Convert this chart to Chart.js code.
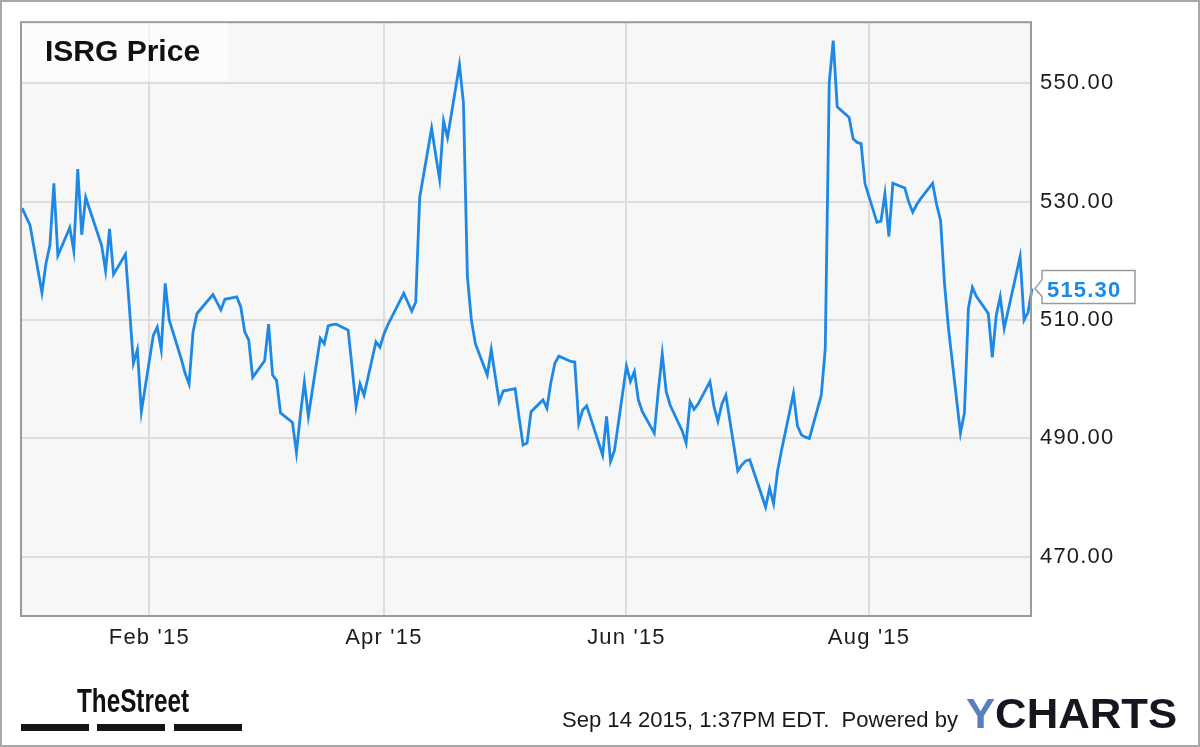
<!DOCTYPE html>
<html>
<head>
<meta charset="utf-8">
<script src="https://cdn.jsdelivr.net/npm/chart.js@4.4.1/dist/chart.umd.min.js"></script>
<style>
	html, body { margin: 0; padding: 0; background: #fff; }
	canvas { display: block; }
</style>
</head>
<body>
<canvas id="isrgChart" width="1200" height="747"></canvas>
<script>
'use strict'

// trading days shown on the chart (Dec 31 2014 .. Sep 11 2015)
const dates = [
	'2014-12-31',
	'2015-01-02', '2015-01-05', '2015-01-06', '2015-01-07', '2015-01-08', '2015-01-09', '2015-01-12', '2015-01-13', '2015-01-14', '2015-01-15',
	'2015-01-16', '2015-01-20', '2015-01-21', '2015-01-22', '2015-01-23', '2015-01-26', '2015-01-27', '2015-01-28', '2015-01-29', '2015-01-30',
	'2015-02-02', '2015-02-03', '2015-02-04', '2015-02-05', '2015-02-06', '2015-02-09', '2015-02-10', '2015-02-11', '2015-02-12', '2015-02-13',
	'2015-02-17', '2015-02-18', '2015-02-19', '2015-02-20', '2015-02-23', '2015-02-24', '2015-02-25', '2015-02-26', '2015-02-27',
	'2015-03-02', '2015-03-03', '2015-03-04', '2015-03-05', '2015-03-06', '2015-03-09', '2015-03-10', '2015-03-11', '2015-03-12', '2015-03-13',
	'2015-03-16', '2015-03-17', '2015-03-18', '2015-03-19', '2015-03-20', '2015-03-23', '2015-03-24', '2015-03-25', '2015-03-26', '2015-03-27',
	'2015-03-30', '2015-03-31',
	'2015-04-01', '2015-04-02', '2015-04-06', '2015-04-07', '2015-04-08', '2015-04-09', '2015-04-10', '2015-04-13', '2015-04-14', '2015-04-15',
	'2015-04-16', '2015-04-17', '2015-04-20', '2015-04-21', '2015-04-22', '2015-04-23', '2015-04-24', '2015-04-27', '2015-04-28', '2015-04-29',
	'2015-04-30',
	'2015-05-01', '2015-05-04', '2015-05-05', '2015-05-06', '2015-05-07', '2015-05-08', '2015-05-11', '2015-05-12', '2015-05-13', '2015-05-14',
	'2015-05-15', '2015-05-18', '2015-05-19', '2015-05-20', '2015-05-21', '2015-05-22', '2015-05-26', '2015-05-27', '2015-05-28', '2015-05-29',
	'2015-06-01', '2015-06-02', '2015-06-03', '2015-06-04', '2015-06-05', '2015-06-08', '2015-06-09', '2015-06-10', '2015-06-11', '2015-06-12',
	'2015-06-15', '2015-06-16', '2015-06-17', '2015-06-18', '2015-06-19', '2015-06-22', '2015-06-23', '2015-06-24', '2015-06-25', '2015-06-26',
	'2015-06-29', '2015-06-30',
	'2015-07-01', '2015-07-02', '2015-07-06', '2015-07-07', '2015-07-08', '2015-07-09', '2015-07-10', '2015-07-13', '2015-07-14', '2015-07-15',
	'2015-07-16', '2015-07-17', '2015-07-20', '2015-07-21', '2015-07-22', '2015-07-23', '2015-07-24', '2015-07-27', '2015-07-28', '2015-07-29',
	'2015-07-30', '2015-07-31',
	'2015-08-03', '2015-08-04', '2015-08-05', '2015-08-06', '2015-08-07', '2015-08-10', '2015-08-11', '2015-08-12', '2015-08-13', '2015-08-14',
	'2015-08-17', '2015-08-18', '2015-08-19', '2015-08-20', '2015-08-21', '2015-08-24', '2015-08-25', '2015-08-26', '2015-08-27', '2015-08-28',
	'2015-08-31',
	'2015-09-01', '2015-09-02', '2015-09-03', '2015-09-04', '2015-09-08', '2015-09-09', '2015-09-10', '2015-09-11'
];

const prices = [
	528.9,
	526.0, 514.6, 519.5, 522.6, 533.1, 520.9, 525.6, 521.7, 535.5, 524.4,
	530.7, 522.6, 518.3, 525.4, 517.7, 521.1, 512.0, 502.7, 505.0, 494.5,
	507.4, 508.8, 505.0, 516.2, 510.0, 503.5, 501.0, 499.2, 508.0, 511.1,
	514.3, 513.0, 511.7, 513.5, 513.9, 512.2, 508.0, 506.6, 500.3,
	503.1, 509.3, 500.7, 499.8, 494.3, 492.7, 487.6, 494.0, 499.5, 493.7,
	506.9, 506.0, 509.0, 509.2, 509.3, 508.3, 502.0, 495.4, 499.2, 497.3,
	506.3, 505.4,
	507.6, 509.2, 514.5, 513.0, 511.5, 513.0, 530.7, 542.4, 538.0, 533.8,
	543.6, 540.8, 553.1, 546.7, 517.3, 510.0, 506.0, 500.7, 505.0, 500.5,
	496.2,
	498.0, 498.4, 493.5, 488.9, 489.2, 494.5, 496.5, 495.1, 499.5, 502.7,
	503.9, 503.0, 502.9, 492.5, 494.8, 495.5, 487.2, 493.7, 486.1, 488.0,
	502.2, 499.6, 501.3, 496.5, 494.5, 490.9, 498.0, 504.3, 497.9, 495.6,
	491.3, 489.2, 496.2, 494.9, 495.8, 499.6, 495.4, 492.9, 495.8, 497.3,
	484.5, 485.5,
	486.2, 486.4, 478.4, 481.6, 479.0, 484.5, 488.0, 497.6, 492.1, 490.6,
	490.2, 490.0, 497.3, 505.2, 550.1, 557.2, 546.0, 544.2, 540.6, 540.0,
	539.8, 533.0,
	526.5, 526.7, 531.3, 524.1, 533.1, 532.3, 529.9, 528.2, 529.5, 530.5,
	533.1, 529.5, 526.8, 516.0, 508.5, 490.9, 494.3, 512.0, 515.5, 514.0,
	511.1,
	503.7, 510.8, 513.9, 508.6, 520.7, 510.0, 511.3, 515.3
];

const xTickDates = ['2015-02-01', '2015-04-01', '2015-06-01', '2015-08-01'];
const xTickLabels = ["Feb '15", "Apr '15", "Jun '15", "Aug '15"];
const yTicks = [470, 490, 510, 530, 550];

const titleText = 'ISRG Price';
const stampText = 'Sep 14 2015, 1:37PM EDT.  Powered by';

// days since Jan 1 2015
let dayOf = (s) => (Date.parse(s) - Date.parse('2015-01-01')) / 86400000;

let xTickDays = xTickDates.map(dayOf);
let points = dates.map((d, i) => ({ x: dayOf(d), y: prices[i] }));
let lastPrice = prices[prices.length - 1];

let fitText = (ctx, text, x, baseline, width, font, color) => {
	ctx.save();
	ctx.letterSpacing = '0px';
	ctx.font = font;
	ctx.fillStyle = color;
	ctx.textAlign = 'left';
	ctx.textBaseline = 'alphabetic';
	let w = ctx.measureText(text).width;
	ctx.translate(x, baseline);
	ctx.scale(width / w, 1);
	ctx.fillText(text, 0, 0);
	ctx.restore();
};

let decorations = {
	id: 'decorations',
	beforeDraw: (chart) => {
		let ctx = chart.ctx;
		let a = chart.chartArea;
		ctx.save();
		ctx.fillStyle = '#ffffff';
		ctx.fillRect(0, 0, chart.width, chart.height);
		ctx.fillStyle = '#f7f7f7';
		ctx.fillRect(a.left, a.top, a.right - a.left, a.bottom - a.top);
		ctx.restore();
		ctx.letterSpacing = '1.2px';
	},
	afterDraw: (chart) => {
		let ctx = chart.ctx;
		let a = chart.chartArea;
		ctx.save();
		ctx.letterSpacing = '0px';

		// plot frame
		ctx.strokeStyle = '#9a9a9a';
		ctx.lineWidth = 2;
		ctx.strokeRect(a.left, a.top, a.right - a.left, a.bottom - a.top);

		// outer frame
		ctx.strokeStyle = '#a8a8a8';
		ctx.strokeRect(1, 1, chart.width - 2, chart.height - 2);

		// title box
		ctx.fillStyle = 'rgba(255,255,255,0.6)';
		ctx.fillRect(a.left + 1, a.top + 1, 206, 58);
		ctx.fillStyle = '#111';
		ctx.font = 'bold 30px "Liberation Sans", Arial, sans-serif';
		ctx.textBaseline = 'alphabetic';
		ctx.fillText(titleText, 45, 61);

		// last price callout
		let tipY = chart.scales.y.getPixelForValue(lastPrice);
		let bx = a.right + 11;
		ctx.beginPath();
		ctx.moveTo(a.right + 4, tipY);
		ctx.lineTo(bx, tipY - 9);
		ctx.lineTo(bx, tipY - 18);
		ctx.lineTo(bx + 93, tipY - 18);
		ctx.lineTo(bx + 93, tipY + 15);
		ctx.lineTo(bx, tipY + 15);
		ctx.lineTo(bx, tipY + 8);
		ctx.closePath();
		ctx.fillStyle = '#ffffff';
		ctx.fill();
		ctx.strokeStyle = '#9a9a9a';
		ctx.lineWidth = 1.5;
		ctx.stroke();
		ctx.letterSpacing = '1.2px';
		ctx.fillStyle = '#1e88e5';
		ctx.font = 'bold 22px "Liberation Sans", Arial, sans-serif';
		ctx.fillText(lastPrice.toFixed(2), bx + 5, tipY + 8);
		ctx.letterSpacing = '0px';

		// TheStreet logo
		fitText(ctx, 'TheStreet', 77, 712, 112, 'bold 34px "Liberation Sans", Arial, sans-serif', '#111');
		ctx.fillStyle = '#151515';
		[[21, 89], [97, 165], [174, 242]].forEach((b) => {
			ctx.fillRect(b[0], 724, b[1] - b[0], 7);
		});

		// timestamp + YCHARTS
		fitText(ctx, stampText, 562, 727, 396, '22px "Liberation Sans", Arial, sans-serif', '#1a1a1a');
		ctx.font = 'bold 43px "Liberation Sans", Arial, sans-serif';
		let wy = ctx.measureText('Y').width;
		let wall = ctx.measureText('YCHARTS').width;
		let k = 211 / wall;
		ctx.translate(966, 728);
		ctx.scale(k, 1);
		ctx.fillStyle = '#5b7fbd';
		ctx.fillText('Y', 0, 0);
		ctx.fillStyle = '#161620';
		ctx.fillText('CHARTS', wy, 0);
		ctx.restore();
	}
};

let ctx = document.getElementById('isrgChart').getContext('2d');
let chart = new Chart(ctx, {
	type: 'line',
	data: {
		datasets: [{
			label: 'ISRG Price',
			data: points,
			borderColor: '#1e88e5',
			borderWidth: 2.8,
			pointRadius: 0,
			tension: 0,
			fill: false,
			clip: false
		}]
	},
	options: {
		responsive: false,
		animation: false,
		devicePixelRatio: 1,
		layout: {
			padding: { left: 21, top: 21, right: 0, bottom: 0 }
		},
		plugins: {
			legend: { display: false },
			title: { display: false },
			tooltip: { enabled: false }
		},
		scales: {
			x: {
				type: 'linear',
				position: 'bottom',
				min: -1.27,
				max: 252.74,
				afterBuildTicks: (scale) => {
					scale.ticks = xTickDays.map((v) => ({ value: v }));
				},
				afterFit: (scale) => {
					scale.height = 131;
				},
				grid: { color: '#dddddd', lineWidth: 2, drawTicks: false },
				border: { display: false },
				ticks: {
					autoSkip: false,
					maxRotation: 0,
					padding: 9,
					color: '#1c1c1c',
					font: { family: '"Liberation Sans", Arial, sans-serif', size: 22 },
					callback: (value) => xTickLabels[xTickDays.indexOf(value)]
				}
			},
			y: {
				type: 'linear',
				position: 'right',
				min: 460,
				max: 560.3,
				afterBuildTicks: (scale) => {
					scale.ticks = yTicks.map((v) => ({ value: v }));
				},
				afterFit: (scale) => {
					scale.width = 169;
				},
				grid: { color: '#dddddd', lineWidth: 2, drawTicks: false },
				border: { display: false },
				ticks: {
					padding: 9,
					color: '#1c1c1c',
					font: { family: '"Liberation Sans", Arial, sans-serif', size: 22 },
					callback: (value) => value.toFixed(2)
				}
			}
		}
	},
	plugins: [decorations]
});
</script>
</body>
</html>
